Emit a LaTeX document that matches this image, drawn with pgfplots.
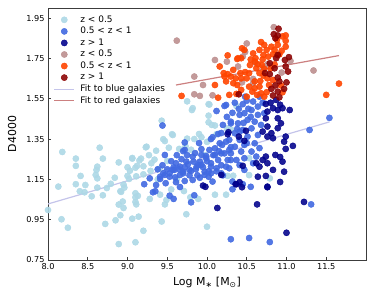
\documentclass[border=0pt]{standalone}
\usepackage{pgfplots}
\pgfplotsset{compat=1.18}
\usepackage{fontspec}
\setmainfont{DejaVu Sans}
\definecolor{lb}{RGB}{173,216,230}
\definecolor{rb}{RGB}{65,105,225}
\definecolor{db}{RGB}{0,0,139}
\definecolor{rr}{RGB}{188,143,143}
\definecolor{orr}{RGB}{255,69,0}
\definecolor{dr}{RGB}{139,0,0}
\definecolor{bfit}{RGB}{196,196,234}
\definecolor{rfit}{RGB}{204,128,128}
\definecolor{frame}{RGB}{60,60,60}
\begin{document}
\begin{tikzpicture}
\path[use as bounding box] (-48bp,-39bp) rectangle (326bp,260bp);
\begin{axis}[
  scale only axis, width=318bp, height=252bp,
  xmin=8, xmax=12, ymin=0.75, ymax=2.0,
  axis line style={frame, line width=0.8pt},
  tick pos=left, tick align=inside, major tick length=3.5bp,
  tick style={frame, line width=0.7pt},
  xtick={8,8.5,9,9.5,10,10.5,11,11.5},
  ytick={0.75,0.95,1.15,1.35,1.55,1.75,1.95},
  /pgf/number format/assume math mode=true,
  tick label style={font=\fontsize{8.2}{9}\selectfont},
  xticklabel style={/pgf/number format/.cd, fixed, fixed zerofill, precision=1},
  yticklabel style={/pgf/number format/.cd, fixed, fixed zerofill, precision=2},
  every axis x label/.style={at={(axis description cs:0.5,-0.103)}, anchor=base, font=\fontsize{11}{13}\selectfont},
  every axis y label/.style={at={(axis description cs:-0.1,0.5)}, rotate=90, anchor=base, font=\fontsize{11}{13}\selectfont},
  xlabel={Log M\textsubscript{∗} [M\textsubscript{⊙}]},
  ylabel={D4000},
  legend image code/.code={\draw[mark repeat=2,mark phase=2,#1] plot coordinates {(0bp,0bp) (10bp,0bp) (20bp,0bp)};},
  legend style={draw=none, fill=none, at={(0,1)}, anchor=north west, xshift=5.5bp, yshift=-6bp, inner sep=0pt,
    font=\fontsize{9}{10}\selectfont, row sep=0.3pt, column sep=4bp,
    nodes={inner sep=1.5pt, text height=6.5pt, text depth=1.8pt}},
  legend cell align=left,
  every axis plot/.append style={mark size=3.1bp},
]
% fits drawn first (behind points)
\addplot[bfit, line width=1.2bp, forget plot] coordinates {(8.0,1.028) (11.54,1.435)};
\addplot[rfit, line width=1.2bp, forget plot] coordinates {(9.61,1.618) (11.66,1.764)};

\addplot[only marks, mark=*, color=lb, mark options={draw=none, fill=lb, fill opacity=0.9}] table {
8.18 1.286
8.35 1.253
8.35 1.217
8.65 1.307
8.69 1.253
8.41 1.167
8.13 1.114
8.35 1.126
8.40 1.091
8.47 1.122
8.46 1.086
8.55 1.066
8.60 1.172
8.61 1.197
8.62 1.213
8.62 1.155
8.62 1.109
8.69 1.071
8.79 1.128
8.74 1.107
8.84 1.158
8.89 1.234
8.91 1.091
8.92 1.088
8.95 1.124
8.96 1.109
9.00 1.167
9.03 1.193
9.06 1.253
9.12 1.217
9.15 1.244
9.02 1.152
9.10 1.081
9.10 1.061
9.11 1.026
8.89 1.025
8.94 1.040
8.95 1.008
8.91 0.972
8.85 0.947
8.72 0.929
9.06 0.955
9.14 0.965
9.10 0.838
8.89 0.829
8.17 0.952
8.25 0.910
8.00 0.998
9.20 0.895
9.28 1.053
9.43 0.941
9.47 1.026
9.49 1.048
9.74 0.977
10.00 0.915
9.71 1.092
10.10 1.074
9.41 1.074
9.13 1.068
9.10 1.038
9.89 1.053
10.24 1.074
9.79 1.061
9.20 1.215
9.10 1.208
9.40 1.202
9.29 1.192
9.20 1.175
9.11 1.165
9.34 1.248
9.50 1.241
9.81 1.494
10.02 1.523
10.02 1.433
10.06 1.420
10.10 1.417
10.12 1.374
9.90 1.375
9.93 1.359
9.84 1.350
9.75 1.352
9.56 1.374
9.45 1.349
9.73 1.314
9.80 1.297
9.65 1.301
9.52 1.307
9.36 1.292
9.23 1.309
9.27 1.270
9.17 1.253
9.06 1.256
10.00 1.336
9.97 1.270
9.75 1.537
10.03 1.521
9.43 1.441
9.47 1.340
10.02 1.466
9.82 1.503
9.57 1.370
9.24 1.312
10.37 1.514
10.25 1.403
10.30 1.398
10.26 1.167
10.53 1.255
10.79 1.155
10.33 1.168
10.53 1.171
9.62 1.150
9.55 1.100
9.38 1.150
9.30 1.230
9.00 1.210
};
\addlegendentry{z < 0.5}

\addplot[only marks, mark=*, color=rb, mark options={draw=none, fill=rb, fill opacity=0.9}] table {
9.21 1.126
9.32 1.086
9.35 1.091
9.53 1.069
9.58 1.053
9.84 1.071
9.80 1.036
10.30 0.853
10.53 0.859
10.79 0.839
11.31 1.026
10.55 1.113
10.32 1.101
9.44 1.417
10.12 1.489
10.07 1.359
10.14 1.375
9.72 1.296
9.47 1.271
9.61 1.230
9.76 1.225
9.83 1.238
9.91 1.238
9.99 1.266
10.03 1.296
10.10 1.304
10.19 1.321
10.24 1.337
10.22 1.279
10.14 1.246
10.05 1.213
9.97 1.188
9.89 1.222
9.80 1.192
9.70 1.188
9.66 1.172
9.57 1.197
9.53 1.163
9.45 1.180
9.41 1.152
9.36 1.122
9.48 1.131
9.61 1.136
9.72 1.142
9.82 1.147
9.91 1.158
10.02 1.163
10.07 1.139
9.28 1.155
9.66 1.112
10.45 1.523
10.58 1.536
10.64 1.511
10.56 1.494
10.47 1.478
10.41 1.470
10.64 1.470
10.72 1.478
10.60 1.436
10.51 1.445
10.39 1.428
10.30 1.436
10.68 1.420
10.56 1.403
10.45 1.395
10.35 1.379
10.64 1.370
10.51 1.362
10.41 1.346
10.28 1.346
10.60 1.329
10.47 1.321
10.35 1.312
10.66 1.305
10.56 1.288
10.43 1.288
10.30 1.279
10.62 1.263
10.47 1.255
10.37 1.246
10.26 1.246
10.58 1.230
10.41 1.221
10.28 1.205
10.47 1.197
10.32 1.139
10.45 1.126
10.24 1.519
11.29 1.395
11.54 1.455
10.48 1.560
10.66 1.560
10.22 1.514
9.72 1.333
9.55 1.240
9.62 1.270
9.68 1.250
9.75 1.270
9.85 1.280
9.93 1.300
9.58 1.210
9.65 1.200
9.72 1.210
9.86 1.200
9.95 1.210
10.00 1.240
10.08 1.270
10.15 1.290
10.18 1.220
10.12 1.190
10.20 1.170
9.50 1.200
9.44 1.220
9.38 1.200
9.60 1.160
9.78 1.170
9.88 1.170
10.02 1.190
9.70 1.290
9.90 1.330
10.05 1.350
10.18 1.380
10.20 1.420
10.25 1.460
10.32 1.480
10.30 1.310
10.38 1.400
10.50 1.330
10.55 1.460
10.46 1.430
10.52 1.500
10.40 1.500
10.35 1.530
10.50 1.540
10.70 1.530
10.30 1.428
10.41 1.387
10.16 1.329
9.99 1.255
9.93 1.271
9.82 1.263
9.74 1.238
9.66 1.213
9.59 1.197
9.53 1.180
9.47 1.172
9.41 1.163
9.70 1.180
9.78 1.197
9.87 1.213
9.93 1.222
10.05 1.230
10.12 1.205
10.05 1.180
9.97 1.172
10.30 1.246
10.24 1.213
10.18 1.180
10.10 1.271
10.18 1.279
10.28 1.296
};
\addlegendentry{0.5 < z < 1}

\addplot[only marks, mark=*, color=db, mark options={draw=none, fill=db, fill opacity=0.88}] table {
10.13 1.008
10.63 1.026
11.22 1.038
11.00 0.885
10.76 1.111
10.92 1.137
10.44 1.111
10.36 1.126
9.95 1.119
9.98 1.113
10.27 1.384
10.18 1.172
10.76 1.486
10.83 1.503
10.89 1.494
10.95 1.503
11.04 1.494
10.74 1.453
10.89 1.453
10.93 1.428
10.76 1.412
10.89 1.404
10.81 1.379
10.76 1.362
10.83 1.354
10.70 1.387
10.26 1.374
10.49 1.391
10.47 1.341
10.99 1.362
10.97 1.337
11.08 1.316
10.99 1.301
10.92 1.261
10.95 1.238
10.74 1.263
10.70 1.246
10.76 1.230
10.45 1.217
10.62 1.230
10.66 1.213
10.83 1.197
10.97 1.188
10.74 1.167
10.64 1.163
10.41 1.136
10.37 1.126
10.76 1.114
10.86 1.271
10.74 1.524
10.87 1.544
10.40 1.362
10.80 1.530
10.92 1.520
};
\addlegendentry{z > 1}

\addplot[only marks, mark=*, color=rr, mark options={draw=none, fill=rr, fill opacity=0.9}] table {
9.62 1.838
10.10 1.742
9.84 1.660
9.84 1.572
9.91 1.564
10.07 1.567
10.25 1.734
10.39 1.710
10.45 1.759
10.50 1.824
10.58 1.627
10.71 1.705
10.76 1.721
10.84 1.905
10.94 1.680
11.05 1.737
11.34 1.690
10.44 1.631
9.95 1.618
10.48 1.782
10.61 1.729
10.58 1.648
};
\addlegendentry{z < 0.5}

\addplot[only marks, mark=*, color=orr, mark options={draw=none, fill=orr, fill opacity=0.9}] table {
10.26 1.765
10.38 1.747
10.44 1.800
10.47 1.792
10.58 1.775
10.61 1.751
10.68 1.831
10.72 1.817
10.75 1.792
10.71 1.767
10.66 1.792
10.81 1.808
10.85 1.792
10.89 1.817
10.88 1.842
10.95 1.859
10.99 1.864
10.99 1.837
10.99 1.808
10.77 1.759
10.64 1.721
10.60 1.734
10.54 1.717
10.62 1.701
10.69 1.717
10.72 1.698
10.66 1.677
10.71 1.665
10.76 1.651
10.53 1.677
10.48 1.682
10.42 1.677
10.33 1.693
10.26 1.672
10.21 1.677
10.22 1.660
10.30 1.660
10.36 1.651
10.43 1.651
10.50 1.651
10.24 1.636
10.33 1.627
10.38 1.618
10.53 1.610
10.57 1.585
10.60 1.602
10.63 1.569
10.68 1.577
10.75 1.582
10.72 1.560
10.78 1.618
10.67 1.638
10.60 1.636
10.83 1.643
10.43 1.594
10.37 1.574
10.50 1.560
10.10 1.618
10.14 1.555
9.68 1.564
10.16 1.710
10.43 1.751
10.83 1.771
10.94 1.788
11.50 1.569
11.66 1.625
10.95 1.582
10.93 1.616
10.66 1.610
10.28 1.569
10.39 1.751
10.91 1.770
10.80 1.700
10.85 1.720
10.55 1.745
10.70 1.745
};
\addlegendentry{0.5 < z < 1}

\addplot[only marks, mark=*, color=dr, mark options={draw=none, fill=dr, fill opacity=0.88}] table {
10.90 1.897
10.84 1.870
10.89 1.864
10.89 1.767
10.87 1.751
10.98 1.742
11.03 1.756
10.99 1.710
11.02 1.685
10.79 1.726
10.85 1.701
10.79 1.672
10.73 1.677
10.89 1.655
11.00 1.631
10.91 1.636
10.86 1.616
10.81 1.599
10.97 1.599
10.89 1.585
10.91 1.557
10.40 1.572
10.83 1.566
10.86 1.850
};
\addlegendentry{z > 1}

\addlegendimage{bfit, line width=1.2bp}
\addlegendentry{Fit to blue galaxies}
\addlegendimage{rfit, line width=1.2bp}
\addlegendentry{Fit to red galaxies}
\end{axis}
\end{tikzpicture}
\end{document}
